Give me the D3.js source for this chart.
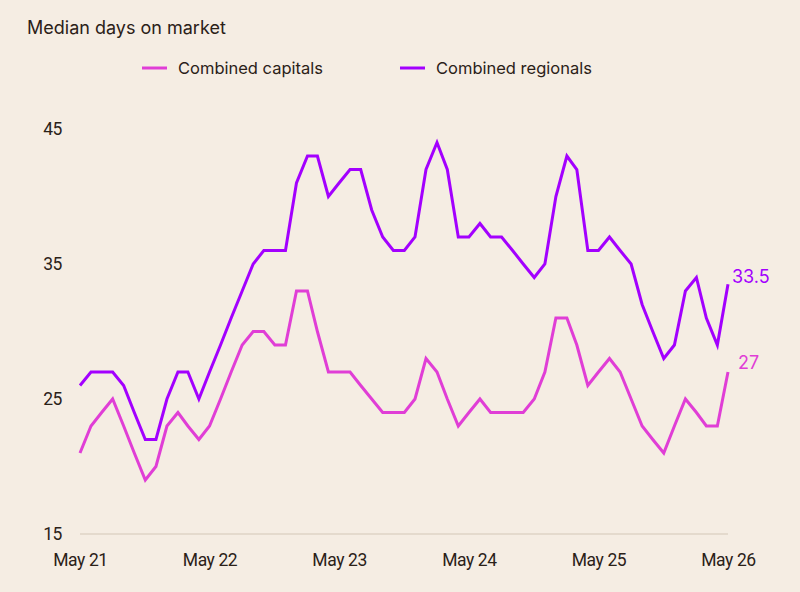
<!DOCTYPE html>
<html>
<head>
<meta charset="utf-8">
<script src="https://cdn.jsdelivr.net/npm/d3@7"></script>
<style>
  body { margin: 0; background: #f5ede3; }
  svg { display: block; }
  .title { font-family: Inter, "Noto Sans", sans-serif; font-size: 18px; fill: #2b2118; }
  .legend text { font-family: Inter, "Noto Sans", sans-serif; font-size: 16.5px; fill: #2b2118; }
  .axis text { font-family: Roboto, "Noto Sans", sans-serif; font-size: 17.5px; fill: #2b2118; letter-spacing: -0.4px; }
  .end-label { font-family: Inter, "Noto Sans", sans-serif; font-size: 18px; }
</style>
</head>
<body>
<div id="chart"></div>
<script>
// Monthly medians, May 2021 to May 2026
const startMonth = new Date(2021, 4, 1);
const capitals = [21, 23, 24, 25, 23, 21, 19, 20, 23, 24, 23, 22, 23, 25, 27, 29, 30, 30, 29, 29,
  33, 33, 30, 27, 27, 27, 26, 25, 24, 24, 24, 25, 28, 27, 25, 23, 24, 25, 24, 24,
  24, 24, 25, 27, 31, 31, 29, 26, 27, 28, 27, 25, 23, 22, 21, 23, 25, 24, 23, 23, 27];
const regionals = [26, 27, 27, 27, 26, 24, 22, 22, 25, 27, 27, 25, 27, 29, 31, 33, 35, 36, 36, 36,
  41, 43, 43, 40, 41, 42, 42, 39, 37, 36, 36, 37, 42, 44, 42, 37, 37, 38, 37, 37,
  36, 35, 34, 35, 40, 43, 42, 36, 36, 37, 36, 35, 32, 30, 28, 29, 33, 34, 31, 29, 33.5];
const yTicks = [15, 25, 35, 45];
const xTickYears = [2021, 2022, 2023, 2024, 2025, 2026];
const seriesNames = ["Combined capitals", "Combined regionals"];
const seriesColors = ["#e03ed6", "#a300ff"];

const width = 800, height = 592;
const margin = { top: 129, right: 72, bottom: 58, left: 80 };
const innerW = width - margin.left - margin.right;
const innerH = height - margin.top - margin.bottom;

const svg = d3.select("#chart").append("svg")
  .attr("width", width)
  .attr("height", height);

const dates = capitals.map((d, i) => new Date(2021, 4 + i, 1));

const x = d3.scaleTime()
  .domain([startMonth, dates[dates.length - 1]])
  .range([0, innerW]);

const y = d3.scaleLinear()
  .domain([15, 45])
  .range([innerH, 0]);

const g = svg.append("g")
  .attr("transform", "translate(" + margin.left + "," + margin.top + ")");

// title
svg.append("text")
  .attr("class", "title")
  .attr("x", 27)
  .attr("y", 34)
  .text("Median days on market");

// legend
const legendX = [142, 400];
const legend = svg.append("g").attr("class", "legend");
seriesNames.forEach(function(name, i) {
  legend.append("line")
    .attr("x1", legendX[i]).attr("x2", legendX[i] + 25)
    .attr("y1", 68).attr("y2", 68)
    .attr("stroke", seriesColors[i])
    .attr("stroke-width", 3);
  legend.append("text")
    .attr("x", legendX[i] + 36)
    .attr("y", 74)
    .text(name);
});

// baseline
g.append("line")
  .attr("x1", 0).attr("x2", innerW)
  .attr("y1", y(15)).attr("y2", y(15))
  .attr("stroke", "#e4dacd")
  .attr("stroke-width", 2);

// y axis
const yAxis = d3.axisLeft(y)
  .tickValues(yTicks)
  .tickSize(0)
  .tickPadding(18);
g.append("g")
  .attr("class", "axis y")
  .call(yAxis)
  .call(s => s.select(".domain").remove());

// x axis
const xAxis = d3.axisBottom(x)
  .tickValues(xTickYears.map(yr => new Date(yr, 4, 1)))
  .tickFormat(d3.timeFormat("May %y"))
  .tickSize(0)
  .tickPadding(20);
g.append("g")
  .attr("class", "axis x")
  .attr("transform", "translate(0," + innerH + ")")
  .call(xAxis)
  .call(s => s.select(".domain").remove());

// lines
const line = d3.line()
  .x((d, i) => x(dates[i]))
  .y(d => y(d));

[capitals, regionals].forEach(function(series, i) {
  g.append("path")
    .datum(series)
    .attr("fill", "none")
    .attr("stroke", seriesColors[i])
    .attr("stroke-width", 3)
    .attr("stroke-linejoin", "miter")
    .attr("d", line);

  const last = series[series.length - 1];
  g.append("text")
    .attr("class", "end-label")
    .attr("x", x(dates[dates.length - 1]) + (i === 0 ? 10 : 4))
    .attr("y", y(last) - (i === 0 ? 3 : 1))
    .attr("fill", seriesColors[i])
    .text(last);
});
</script>
</body>
</html>
